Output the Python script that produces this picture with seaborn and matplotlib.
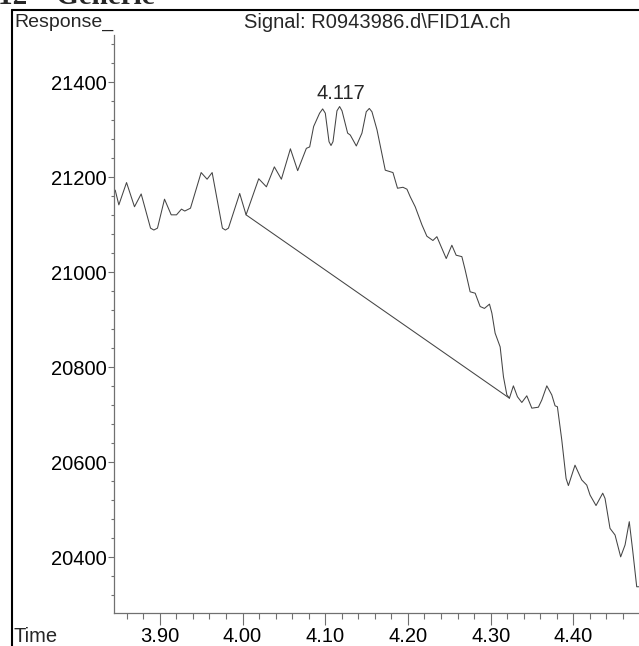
import numpy as np
import pandas as pd
import matplotlib
matplotlib.use("Agg")
import matplotlib.pyplot as plt
from matplotlib.lines import Line2D
from matplotlib.ticker import MultipleLocator, FormatStrFormatter
import seaborn as sns

# FID signal trace (retention time in min, detector response)
time_min = [
    3.8461, 3.8505, 3.8598, 3.8694, 3.8775, 3.8888, 3.8928, 3.8972, 3.9057, 3.9138,
    3.9202, 3.9262, 3.9302, 3.9371, 3.9500, 3.9572, 3.9633, 3.9757, 3.9793, 3.9830,
    3.9966, 4.0043, 4.0196, 4.0289, 4.0385, 4.0470, 4.0579, 4.0667, 4.0772, 4.0812,
    4.0860, 4.0932, 4.0969, 4.1001, 4.1046, 4.1070, 4.1094, 4.1142, 4.1174, 4.1203,
    4.1271, 4.1303, 4.1376, 4.1444, 4.1496, 4.1533, 4.1565, 4.1626, 4.1726, 4.1819,
    4.1874, 4.1940, 4.1988, 4.2028, 4.2088, 4.2169, 4.2229, 4.2302, 4.2350, 4.2463,
    4.2531, 4.2583, 4.2652, 4.2692, 4.2752, 4.2813, 4.2873, 4.2925, 4.2986, 4.3015,
    4.3054, 4.3115, 4.3155, 4.3196, 4.3227, 4.3275, 4.3324, 4.3377, 4.3437, 4.3498,
    4.3577, 4.3618, 4.3679, 4.3739, 4.3779, 4.3807, 4.3860, 4.3912, 4.3940, 4.4020,
    4.4101, 4.4162, 4.4202, 4.4274, 4.4355, 4.4383, 4.4443, 4.4504, 4.4572, 4.4625,
    4.4676, 4.4717, 4.4766, 4.4790,
]
response = [
    21173, 21142, 21189, 21138, 21165, 21093, 21089, 21093, 21154, 21121,
    21121, 21133, 21129, 21135, 21210, 21196, 21210, 21093, 21089, 21093,
    21166, 21121, 21197, 21180, 21222, 21196, 21260, 21214, 21261, 21264,
    21307, 21335, 21344, 21335, 21275, 21267, 21275, 21340, 21349, 21340,
    21293, 21289, 21266, 21293, 21338, 21345, 21338, 21300, 21215, 21210,
    21177, 21179, 21175, 21159, 21138, 21100, 21076, 21067, 21075, 21029,
    21057, 21036, 21033, 21005, 20959, 20956, 20928, 20924, 20933, 20914,
    20872, 20843, 20780, 20742, 20735, 20761, 20738, 20726, 20740, 20714,
    20716, 20731, 20761, 20742, 20719, 20717, 20647, 20566, 20551, 20594,
    20563, 20552, 20531, 20509, 20535, 20524, 20461, 20447, 20401, 20426,
    20475, 20415, 20338, 20338,
]

# Integration baseline of the peak
baseline_time = [4.0043, 4.3227]
baseline_resp = [21121, 20735]

peak_rt = 4.117
peak_height = 21349

signal_name = r"Signal: R0943986.d\FID1A.ch"
x_ticks = [3.90, 4.00, 4.10, 4.20, 4.30, 4.40]
y_ticks = [20400, 20600, 20800, 21000, 21200, 21400]

sns.set_style("ticks")
plt.rcParams["font.family"] = ["Liberation Sans", "DejaVu Sans"]

W, H = 639, 646
fig = plt.figure(figsize=(W / 100, H / 100), dpi=100)

ax_l, ax_r, ax_t, ax_b = 114.3, 638.7, 35.0, 612.7
ax = fig.add_axes([ax_l / W, 1 - ax_b / H, (ax_r - ax_l) / W, (ax_b - ax_t) / H])

trace = pd.DataFrame({"time": time_min, "response": response})
base = pd.DataFrame({"time": baseline_time, "response": baseline_resp})

sns.lineplot(data=trace, x="time", y="response", ax=ax, color="#444444",
             linewidth=0.75, sort=False, estimator=None,
             solid_joinstyle="round")
sns.lineplot(data=base, x="time", y="response", ax=ax, color="#444444",
             linewidth=0.75, sort=False, estimator=None)

ax.set_xlim(3.845, 4.479)
ax.set_ylim(20283.4, 21499.6)

ax.set_xticks(x_ticks)
ax.xaxis.set_major_formatter(FormatStrFormatter("%.2f"))
ax.xaxis.set_minor_locator(MultipleLocator(0.02))
ax.set_yticks(y_ticks)
ax.yaxis.set_minor_locator(MultipleLocator(40))

ax.set_xlabel("")
ax.set_ylabel("")
sns.despine(ax=ax, top=True, right=True)
axis_gray = "#707070"
for s in ("left", "bottom"):
    ax.spines[s].set_color(axis_gray)
    ax.spines[s].set_linewidth(0.9)
ax.tick_params(axis="x", which="major", length=8.6, width=0.8, color=axis_gray,
               labelsize=14.5, pad=2, labelcolor="black")
ax.tick_params(axis="x", which="minor", length=4.3, width=0.8, color=axis_gray)
ax.tick_params(axis="y", which="major", length=4.3, width=0.8, color=axis_gray,
               labelsize=14.5, pad=1, labelcolor="black")
ax.tick_params(axis="y", which="minor", length=2.2, width=0.8, color=axis_gray)
ax.patch.set_alpha(0)

# peak retention time label
ax.annotate(f"{peak_rt:.3f}", xy=(peak_rt, peak_height), xytext=(1.5, 2.5),
            textcoords="offset points", ha="center", va="bottom", fontsize=14.5)

# report header and frame
fig.text(14 / W, 1 - 22 / H, "Response_", ha="left", va="center", fontsize=14)
fig.text(377.5 / W, 1 - 22 / H, signal_name, ha="center", va="center", fontsize=14.5)
fig.text(13 / W, 1 - 636 / H, "Time", ha="left", va="center", fontsize=14.5)
fig.text(-2 / W, 1 - 4 / H, "12    Generic", ha="left", va="baseline",
         fontsize=21, family="Liberation Serif", fontweight="bold")

fig.add_artist(Line2D([12 / W, 12 / W], [0, 1 - 10 / H], color="black",
                      linewidth=1.5, transform=fig.transFigure))
fig.add_artist(Line2D([12 / W, 1], [1 - 10 / H, 1 - 10 / H], color="black",
                      linewidth=1.5, transform=fig.transFigure))

fig.savefig("out.png", dpi=100, facecolor="white")
